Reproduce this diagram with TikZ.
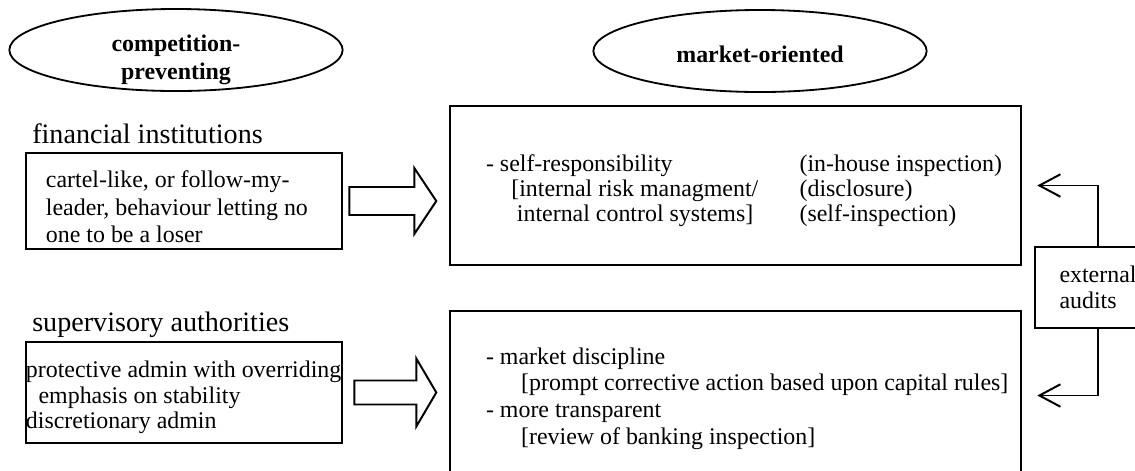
\documentclass[tikz,border=0pt]{standalone}
\usepackage{fontspec}
\setmainfont{Liberation Serif}
\usepackage{tikz}
\usetikzlibrary{positioning}
\usetikzlibrary{calc,shapes.geometric}
\usetikzlibrary{arrows.meta}
\tikzstyle{oval}=[draw,ellipse,line width=1.3pt,inner sep=0pt,minimum width=8.33cm,minimum height=2.05cm]
\tikzstyle{ovaltext}=[font=\fontsize{17}{20}\selectfont\bfseries,align=center]
\tikzstyle{sidelabel}=[anchor=base west,inner sep=0pt,font=\fontsize{20}{22}\selectfont]
\tikzstyle{leftbox}=[draw,line width=1.8pt,minimum width=7.9cm]
\tikzstyle{bigbox}=[draw,line width=1.7pt,minimum width=14.275cm]
\tikzstyle{boxtext}=[anchor=west,inner sep=0pt,align=left]
\tikzstyle{fat}=[line width=1.4pt,line join=miter]
\tikzstyle{conn}=[line width=1.4pt,->]
\tikzset{>={Straight Barb[length=15pt,width=16pt]}}

\begin{document}
\begin{tikzpicture}[x=0.025cm,y=-0.025cm]
    \useasboundingbox (0,0) rectangle (1135,470);

    % the two headings
    \node[oval] (compoval) at (176,50) {};
    \node[ovaltext] (comptxt) at (176,60) {competition-\\preventing};
    \node[oval] (mktoval) at (760,51) {};
    \node[ovaltext] (mkttxt) at ($(mktoval.center)+(0,3)$) {market-oriented};

    % left column
    \node[sidelabel] (finlbl) at (32,143) {financial institutions};
    \node[leftbox,minimum height=2.4cm] (finbox) at (184,201) {};
    \node[boxtext,font=\fontsize{17}{19.5}\selectfont] (fintxt) at ($(finbox.west)+(21,6)$)
      {cartel-like, or follow-my-\\leader, behaviour letting no\\one to be a loser};
    \node[sidelabel] (suplbl) at (32,331) {supervisory authorities};
    \node[leftbox,minimum height=2.525cm] (supbox) at (184,392.5) {};
    \node[boxtext,font=\fontsize{17}{18}\selectfont] (suptxt) at ($(supbox.west)+(1,5)$)
      {protective admin with overriding\\\hspace*{9pt}emphasis on stability\\discretionary admin};

    % fat arrows
    \draw[fat] ($(finbox.east)+(6,-14)$) -- ++(65,0) -- ++(0,-19) -- ++(22,33)
      -- ++(-22,33) -- ++(0,-19) -- ++(-65,0) -- cycle;
    \draw[fat] ($(supbox.east)+(11,-12)$) -- ++(62,0) -- ++(0,-22) -- ++(20,34)
      -- ++(-20,34) -- ++(0,-22) -- ++(-62,0) -- cycle;

    % right column
    \node[bigbox,minimum height=3.975cm] (selfbox) at (735.5,185.5) {};
    \node[boxtext,font=\fontsize{17}{18}\selectfont] (selftxt) at ($(selfbox.west)+(37,6)$) {%
      \begin{tabular}{@{}p{223pt}@{}l@{}}
        - self-responsibility & (in-house inspection)\\
        \hspace*{18pt}[internal risk managment/ & (disclosure)\\
        \hspace*{22pt}internal control systems] & (self-inspection)
      \end{tabular}};
    \node[bigbox,minimum height=4.225cm] (mktbox) at (735.5,395.5) {};
    \node[boxtext,font=\fontsize{17}{19}\selectfont] (mkttxt2) at ($(mktbox.west)+(37,3)$)
      {- market discipline\\\hspace*{25pt}[prompt corrective action based upon capital rules]\\
       - more transparent\\\hspace*{25pt}[review of banking inspection]};

    % external audits feeding both boxes
    \node[draw,line width=1.6pt,minimum width=3.15cm,minimum height=2.025cm,align=left,
      font=\fontsize{17}{18.5}\selectfont] (ext) at (1098,287.5) {external\\audits};
    \draw[conn,shorten >=0.375cm] (ext.north) |- (selfbox.east);
    \draw[conn,shorten >=0.375cm] (ext.south) |- (mktbox.east);
\end{tikzpicture}
\end{document}
